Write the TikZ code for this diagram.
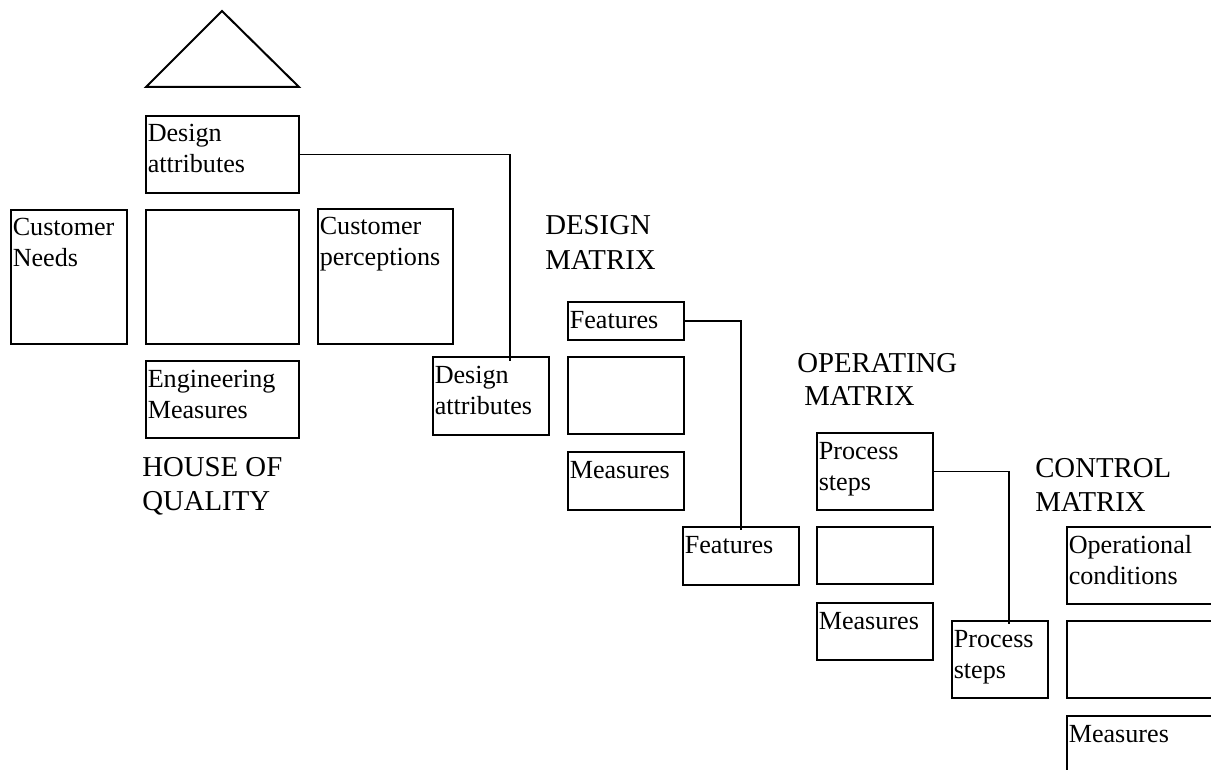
\documentclass[tikz,border=0pt]{standalone}
\usepackage{fontspec}
\setmainfont{Liberation Serif}
\usetikzlibrary{calc}
\newcommand\mlines[1]{\begin{tabular}[t]{@{}l@{}}#1\end{tabular}}
\tikzset{
  thinbox/.style={draw, line width=1pt, inner sep=0pt, outer sep=0pt, anchor=north west},
  thickbox/.style={draw, line width=1.5pt, inner sep=0pt, outer sep=0pt, anchor=north west},
  wh/.style 2 args={minimum width=#1*0.75pt, minimum height=#2*0.75pt},
  boxtext/.style={anchor=base west, inner sep=0pt, font=\fontsize{19.6}{23.25}\selectfont},
  bigtext/.style={anchor=base west, inner sep=0pt, font=\fontsize{21.6}{25.5}\selectfont},
  conn/.style={draw, line width=1pt}
}
\begin{document}
\begin{tikzpicture}[x=0.75pt,y=-0.75pt]
\useasboundingbox (0,0) rectangle (1211,770);
\clip (0,0) rectangle (1211,770);
% roof
\draw[line width=1.5pt, line join=miter] (146,87) -- (222,11) -- (299,87) -- cycle;
% House of quality
\node[thinbox, wh={153}{77}] (da1) at (146,116) {};
\node[thickbox, wh={116}{134}] (cn) at (11,210) {};
\node[thickbox, wh={153}{134}] (hq) at (146,210) {};
\node[thickbox, wh={135}{135}] (cp) at (318,209) {};
\node[thickbox, wh={153}{77}] (em) at (146,361) {};
\node[boxtext] (da1t) at ($(da1.north west)+(1.5,26)$) {\mlines{Design\\attributes}};
\node[boxtext] (cnt) at ($(cn.north west)+(1.5,26)$) {\mlines{Customer\\Needs}};
\node[boxtext] (cpt) at ($(cp.north west)+(1.5,26)$) {\mlines{Customer\\perceptions}};
\node[boxtext] (emt) at ($(em.north west)+(1.5,26)$) {\mlines{Engineering\\Measures}};
\node[bigtext] (hoq) at (142,476) {\mlines{HOUSE OF\\QUALITY}};
% Design matrix
\node[thinbox, wh={116}{78}] (da2) at (433,357) {};
\node[boxtext] (da2t) at ($(da2.north west)+(1.5,26)$) {\mlines{Design\\attributes}};
\node[bigtext] (dmx) at (545,235) {\mlines{DESIGN\\MATRIX}};
\node[thinbox, wh={116}{38}] (f1) at (568,302) {};
\node[thinbox, wh={116}{77}] (dm) at (568,357) {};
\node[thinbox, wh={116}{58}] (m1) at (568,452) {};
\node[boxtext] (f1t) at ($(f1.north west)+(1.5,26)$) {Features};
\node[boxtext] (m1t) at ($(m1.north west)+(1.5,26)$) {Measures};
\draw[conn] (da1.east) -| ($(da2.north west)+(77,4)$) coordinate (e1);
% Operating matrix
\node[thinbox, wh={116}{58}] (f2) at (683,527) {};
\node[boxtext] (f2t) at ($(f2.north west)+(1.5,26)$) {Features};
\node[bigtext] (omx1) at (797,372) {OPERATING};
\node[bigtext] (omx2) at (804,405) {MATRIX};
\node[thinbox, wh={116}{77}] (p1) at (817,433) {};
\node[thinbox, wh={116}{57}] (om) at (817,527) {};
\node[thinbox, wh={116}{57}] (m2) at (817,603) {};
\node[boxtext] (p1t) at ($(p1.north west)+(1.5,26)$) {\mlines{Process\\steps}};
\node[boxtext] (m2t) at ($(m2.north west)+(1.5,26)$) {Measures};
\draw[conn] (f1.east) -| ($(f2.north west)+(58,3)$) coordinate (e2);
% Control matrix
\node[thinbox, wh={96}{77}] (p2) at (952,621) {};
\node[boxtext] (p2t) at ($(p2.north west)+(1.5,26)$) {\mlines{Process\\steps}};
\node[bigtext] (cmx) at (1035,477) {\mlines{CONTROL\\MATRIX}};
\node[thinbox, wh={160}{77}] (oc) at (1067,527) {};
\node[thinbox, wh={160}{77}] (cm) at (1067,621) {};
\node[thinbox, wh={160}{80}] (m3) at (1067,716) {};
\node[boxtext] (oct) at ($(oc.north west)+(1.5,26)$) {\mlines{Operational\\conditions}};
\node[boxtext] (m3t) at ($(m3.north west)+(1.5,26)$) {Measures};
\draw[conn] (p1.east) -| ($(p2.north west)+(57,3)$) coordinate (e3);
\end{tikzpicture}
\end{document}
